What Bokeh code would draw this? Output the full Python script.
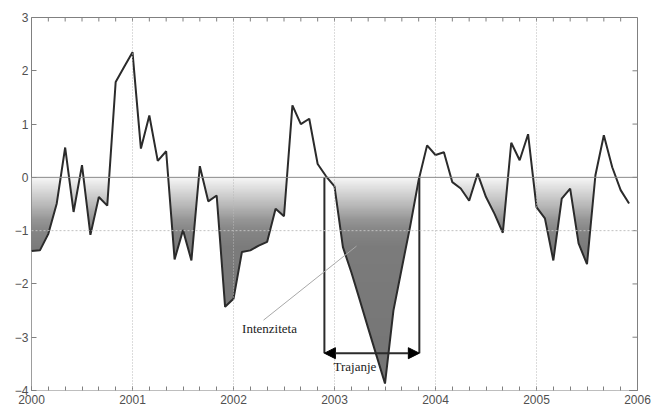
import numpy as np
from bokeh.plotting import figure
from bokeh.models import (Range1d, FixedTicker, Span, Arrow,
                          NormalHead, ColumnDataSource, Label)
from bokeh.embed import file_html
from bokeh.resources import INLINE

# ---------------- data ----------------
years = [2000, 2001, 2002, 2003, 2004, 2005, 2006]
y_ticks = [-4, -3, -2, -1, 0, 1, 2, 3]
start_year = 2000

# monthly index values, Jan 2000 .. Dec 2005
index_values = [
    -1.38, -1.37, -1.06, -0.49, 0.56, -0.65, 0.23, -1.08, -0.37, -0.53, 1.79, 2.07,   # 2000
    2.35, 0.54, 1.16, 0.31, 0.49, -1.54, -0.99, -1.56, 0.21, -0.45, -0.34, -2.43,     # 2001
    -2.28, -1.40, -1.37, -1.28, -1.21, -0.59, -0.73, 1.35, 1.00, 1.10, 0.25, 0.02,    # 2002
    -0.17, -1.31, -1.78, -2.30, -2.83, -3.35, -3.87, -2.50, -1.70, -0.91, -0.05, 0.60,  # 2003
    0.42, 0.47, -0.09, -0.21, -0.44, 0.07, -0.37, -0.68, -1.04, 0.65, 0.32, 0.81,     # 2004
    -0.56, -0.77, -1.56, -0.40, -0.21, -1.24, -1.63, 0.04, 0.79, 0.19, -0.24, -0.49,  # 2005
]

drought_start = 2002.90
drought_end = 2003.84
duration_level = -3.30
intensity_text = "Intenziteta"
duration_text = "Trajanje"
intensity_label_pos = (2002.085, -2.83)
duration_label_pos = (2002.99, -3.55)
leader_line = ([2002.297, 2003.218], [-2.68, -1.29])

vals = np.array(index_values)
t = start_year + np.arange(len(vals)) / 12.0
source = ColumnDataSource(dict(t=t, v=vals, floor=np.full(len(vals), -4.5)))

# ---------------- figure ----------------
W, H = 652, 412
BL, BR, BT, BB = 31, 15, 17, 22
x0r, x1r, y0r, y1r = 2000, 2006, -4, 3
p = figure(width=W, height=H, x_range=Range1d(x0r, x1r), y_range=Range1d(y0r, y1r),
           output_backend="svg", toolbar_location=None,
           min_border_left=BL, min_border_right=BR, min_border_top=BT, min_border_bottom=BB)
p.background_fill_color = "white"
p.border_fill_color = "white"
p.outline_line_color = "#808080"
p.outline_line_width = 1
p.xgrid.visible = False
p.ygrid.visible = False

minor_x = [start_year + k / 6.0 for k in range(0, 37)]

def style_axis(ax, tick_len):
    ax.axis_line_color = None
    ax.major_tick_line_color = "#808080"
    ax.minor_tick_line_color = "#808080"
    ax.major_tick_in = tick_len
    ax.major_tick_out = 0
    ax.minor_tick_in = 4
    ax.minor_tick_out = 0
    ax.major_label_text_font = "Liberation Sans"
    ax.major_label_text_font_size = "12px"
    ax.major_label_text_color = "#505050"

xax = p.xaxis[0]
xax.ticker = FixedTicker(ticks=years, minor_ticks=minor_x)
style_axis(xax, 4)
xax.major_label_standoff = 4

yax = p.yaxis[0]
yax.ticker = FixedTicker(ticks=y_ticks)
style_axis(yax, 5)
yax.minor_tick_line_color = None
yax.major_label_standoff = 3

# tick marks on the top and right frame edges (no labels there)
frame_w = W - BL - BR
frame_h = H - BT - BB
dy_top = 4 * (y1r - y0r) / frame_h
dx_right = 5 * (x1r - x0r) / frame_w
top_ticks = sorted(set(minor_x) | set(years))
p.segment(x0=top_ticks, y0=[y1r] * len(top_ticks), x1=top_ticks,
          y1=[y1r - dy_top] * len(top_ticks), line_color="#808080", line_width=1)
p.segment(x0=[x1r] * len(y_ticks), y0=y_ticks, x1=[x1r - dx_right] * len(y_ticks),
          y1=y_ticks, line_color="#808080", line_width=1)

# ---------------- gradient fill below zero ----------------
N = 400
levels = -4 + (np.arange(N) + 0.5) * 4.0 / N
stop_v = [-4.0, -1.3, -1.0, -0.8, -0.5, -0.2, 0.0]
stop_g = [116, 124, 134, 150, 188, 224, 248]
g = np.interp(levels, stop_v, stop_g).astype(np.uint8)
img = np.empty((N, 1), dtype=np.uint32)
view = img.view(dtype=np.uint8).reshape((N, 1, 4))
view[:, 0, 0] = g
view[:, 0, 1] = g
view[:, 0, 2] = g
view[:, 0, 3] = 255

# the last (incomplete) dry spell is not shaded: stop at the zero crossing
k = 69
fill_end = t[k] + vals[k] / (vals[k] - vals[k + 1]) * (t[k + 1] - t[k])
p.image_rgba(image=[img], x=t[0], y=-4, dw=fill_end - t[0], dh=4)
# white mask under the curve leaves the gradient only between the curve and zero
p.varea(x="t", y1="floor", y2="v", source=source, fill_color="white", fill_alpha=1.0)

# ---------------- reference lines ----------------
for yr in years[1:-1]:
    p.add_layout(Span(location=yr, dimension="height", line_color="#b8b8b8",
                      line_width=1, line_dash="1 2"))
p.add_layout(Span(location=-1, dimension="width", line_color="#c0c0c0",
                  line_width=1, line_dash="2 2"))
p.add_layout(Span(location=0, dimension="width", line_color="#8a8a8a", line_width=1))

# ---------------- series line ----------------
p.line(x="t", y="v", source=source, line_color="#2b2b2b", line_width=2)

# ---------------- annotations ----------------
p.segment(x0=[drought_start, drought_end], y0=[0, 0],
          x1=[drought_start, drought_end], y1=[duration_level, duration_level],
          line_color="#2b2b2b", line_width=2)
p.add_layout(Arrow(x_start=drought_start, y_start=duration_level,
                   x_end=drought_end, y_end=duration_level,
                   start=NormalHead(size=11, fill_color="black", line_color="black"),
                   end=NormalHead(size=11, fill_color="black", line_color="black"),
                   line_color="#2b2b2b", line_width=2))
p.line(x=leader_line[0], y=leader_line[1], line_color="#a8a8a8", line_width=1)

p.add_layout(Label(x=intensity_label_pos[0], y=intensity_label_pos[1], text=intensity_text,
                   text_font="Liberation Serif", text_font_size="13px",
                   text_baseline="middle", text_align="left", text_color="#222222"))
p.add_layout(Label(x=duration_label_pos[0], y=duration_label_pos[1], text=duration_text,
                   text_font="Liberation Serif", text_font_size="13px",
                   text_baseline="middle", text_align="left", text_color="#222222"))

open("out.html", "w").write(file_html(p, INLINE))
